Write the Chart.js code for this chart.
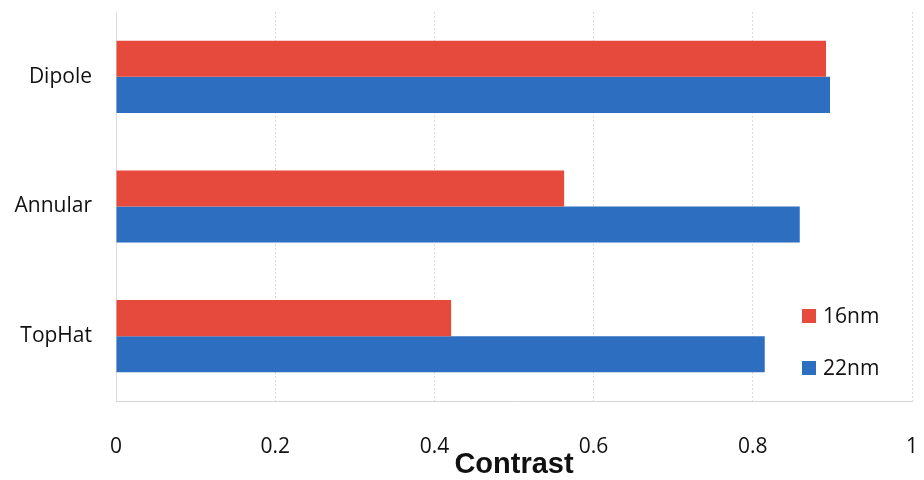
<!DOCTYPE html>
<html>
<head>
<meta charset="utf-8">
<script src="https://cdn.jsdelivr.net/npm/chart.js@4/dist/chart.umd.min.js"></script>
<style>
  html, body { margin: 0; padding: 0; background: #fff; }
  #wrap { width: 924px; height: 480px; }
</style>
</head>
<body>
<div id="wrap"><canvas id="myChart"></canvas></div>
<script>
'use strict';

// categories and series
const categories = ['Dipole', 'Annular', 'TopHat'];
const nm16 = [0.892, 0.563, 0.421];
const nm22 = [0.897, 0.859, 0.815];
const seriesNames = ['16nm', '22nm'];
const xTicks = [0, 0.2, 0.4, 0.6, 0.8, 1];
const xTickLabels = ['0', '0.2', '0.4', '0.6', '0.8', '1'];

const fontFamily = "'Open Sans', 'DejaVu Sans', sans-serif";

// legend sits inside the plot, lower right
const insideLegend = {
  id: 'insideLegend',
  afterDraw(chart) {
    const c = chart.ctx;
    const sets = chart.data.datasets;
    c.save();
    c.font = '21px ' + fontFamily;
    c.textBaseline = 'middle';
    c.textAlign = 'left';
    for (let i = 0; i < sets.length; i++) {
      const y = 316 + i * 52;
      c.fillStyle = sets[i].backgroundColor;
      c.fillRect(802, y - 7, 14, 14);
      c.fillStyle = '#111';
      c.fillText(sets[i].label, 823, y + 1);
    }
    c.restore();
  }
};

var ctx = document.getElementById('myChart').getContext('2d');
window.chart = new Chart(ctx, {
  type: 'bar',
  data: {
    labels: categories,
    datasets: [{
      label: seriesNames[0],
      backgroundColor: '#e64a3c',
      data: nm16
    }, {
      label: seriesNames[1],
      backgroundColor: '#2e6ec0',
      data: nm22
    }]
  },
  options: {
    indexAxis: 'y',
    responsive: true,
    maintainAspectRatio: false,
    animation: false,
    categoryPercentage: 0.556,
    barPercentage: 1,
    layout: { padding: { left: 0, right: 12, top: 12, bottom: 0 } },
    plugins: {
      legend: { display: false },
      tooltip: { enabled: false }
    },
    scales: {
      x: {
        min: 0,
        max: 1,
        afterFit: function(s) {
          s.height = 79;
          s.paddingLeft = 0;
          s.paddingRight = 0;
        },
        afterBuildTicks: function(s) { s.ticks = xTicks.map(v => ({ value: v })); },
        grid: { color: '#dcdcdc', lineWidth: 1, drawTicks: false },
        border: { display: true, color: '#d4d4d4', dash: [2, 2] },
        ticks: {
          padding: 36,
          color: '#111',
          font: { family: fontFamily, size: 21, lineHeight: 1 },
          callback: function(v, i) { return xTickLabels[i]; }
        },
        title: {
          display: true,
          text: 'Contrast',
          color: '#111',
          padding: { top: 0, bottom: 1 },
          font: { family: "'Liberation Sans', Arial, sans-serif", size: 29, weight: 'bold', lineHeight: 1 }
        }
      },
      y: {
        afterFit: function(s) {
          s.width = 116;
          s.paddingTop = 0;
          s.paddingBottom = 0;
        },
        grid: { display: false, drawTicks: false },
        border: { display: true, color: '#dcdcdc' },
        ticks: {
          padding: 24,
          color: '#111',
          font: { family: fontFamily, size: 21, lineHeight: 1 }
        }
      }
    }
  },
  plugins: [insideLegend]
});
</script>
</body>
</html>
